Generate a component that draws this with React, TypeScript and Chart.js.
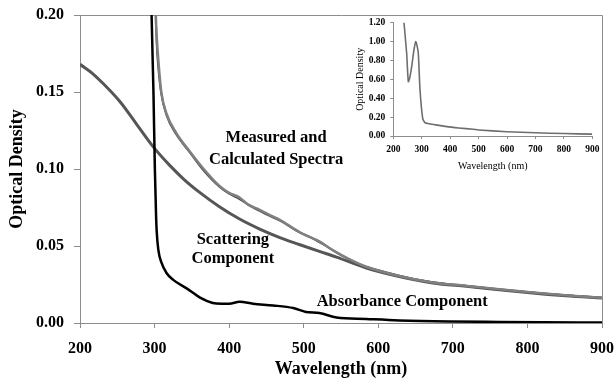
import React, { useEffect, useRef } from "react";
import { Chart, registerables } from "chart.js";

Chart.register(...registerables);

// ---- data ----
const absorbX = [294, 296, 298.5, 300.4, 302, 302.8, 305, 309.4, 316, 325, 343, 361, 378, 390, 400, 414, 432, 459, 486, 503, 521, 544, 584, 628, 695, 762, 820, 900];
const absorbY = [0.26, 0.2, 0.15, 0.1, 0.07, 0.06, 0.0476, 0.039, 0.0325, 0.028, 0.0225, 0.0165, 0.013, 0.0125, 0.0125, 0.0138, 0.0125, 0.0114, 0.0097, 0.0072, 0.0065, 0.0036, 0.0026, 0.0017, 0.001, 0.0007, 0.0005, 0.0003];

const measuredX = [300.5, 301.7, 303, 305, 309, 316, 329, 347, 365, 387, 400, 414, 425, 441, 459, 468, 486, 500, 521, 540, 561, 584, 628, 673, 718, 762, 807, 851, 900];
const measuredY = [0.24, 0.2, 0.185, 0.171, 0.15, 0.136, 0.1235, 0.1115, 0.1005, 0.089, 0.0845, 0.0815, 0.077, 0.0735, 0.069, 0.067, 0.0615, 0.0575, 0.053, 0.047, 0.0415, 0.0365, 0.0305, 0.0263, 0.0241, 0.0219, 0.0198, 0.018, 0.0164];

const calcX = [300, 301, 303, 305, 309, 316, 329, 347, 365, 387, 400, 414, 430, 450, 470, 490, 510, 530, 550, 575, 600, 650, 700, 750, 800, 850, 900];
const calcY = [0.24, 0.21, 0.18, 0.166, 0.149, 0.135, 0.1225, 0.111, 0.0995, 0.0885, 0.084, 0.0805, 0.0755, 0.0705, 0.066, 0.06, 0.0555, 0.05, 0.044, 0.038, 0.0342, 0.0283, 0.0248, 0.0223, 0.02, 0.018, 0.0163];

const scatterX = [200, 218, 231, 254, 276, 298, 320, 340, 360, 387, 414, 441, 468, 494, 521, 544, 584, 628, 673, 718, 762, 807, 851, 900];
const scatterY = [0.168, 0.1615, 0.1555, 0.1435, 0.129, 0.1145, 0.1025, 0.093, 0.085, 0.0755, 0.0675, 0.061, 0.0555, 0.051, 0.0465, 0.0428, 0.0357, 0.0302, 0.026, 0.0238, 0.0216, 0.0195, 0.0177, 0.0162];

const insetX = [235, 237.6, 247, 252.8, 258, 264.7, 272, 278.8, 284, 288, 294, 303.4, 311.5, 350, 388, 430, 481, 500, 600, 700, 800, 900];
const insetY = [1.35, 1.2, 0.876, 0.575, 0.62, 0.734, 0.9, 0.999, 0.95, 0.876, 0.487, 0.187, 0.141, 0.118, 0.099, 0.085, 0.071, 0.064, 0.045, 0.034, 0.026, 0.02];

const annotations = [
  { text: "Measured and", x: 463, y: 0.1203 },
  { text: "Calculated Spectra", x: 463, y: 0.106 },
  { text: "Scattering", x: 405, y: 0.054 },
  { text: "Component", x: 405, y: 0.0416 },
  { text: "Absorbance Component", x: 632, y: 0.014 },
];

const SERIF = "'Liberation Serif', 'Times New Roman', serif";
const AXIS_GRAY = "#8c8c8c";

const pts = (xs: number[], ys: number[]) => xs.map((x, i) => ({ x, y: ys[i] }));

// let layout.padding alone decide where the plot area sits
const fixX = (h: number) => (s: any) => { s.height = h; s.paddingLeft = 0; s.paddingRight = 0; };
const fixY = (w: number) => (s: any) => { s.width = w; s.paddingTop = 0; s.paddingBottom = 0; };

const framePlugin = {
  id: "frame",
  beforeDatasetsDraw(chart: any) {
    const { ctx, chartArea } = chart;
    ctx.save();
    ctx.strokeStyle = AXIS_GRAY;
    ctx.lineWidth = 1;
    ctx.beginPath();
    ctx.moveTo(Math.round(chartArea.left) + 0.5, Math.round(chartArea.top) + 0.5);
    ctx.lineTo(Math.round(chartArea.right) + 0.5, Math.round(chartArea.top) + 0.5);
    ctx.lineTo(Math.round(chartArea.right) + 0.5, Math.round(chartArea.bottom) + 0.5);
    ctx.stroke();
    ctx.restore();
  },
};

const textPlugin = {
  id: "labels",
  afterDatasetsDraw(chart: any) {
    const { ctx, scales } = chart;
    ctx.save();
    ctx.fillStyle = "#000";
    ctx.font = `bold 16.5px ${SERIF}`;
    ctx.textAlign = "center";
    ctx.textBaseline = "middle";
    annotations.forEach((a) => {
      ctx.fillText(a.text, scales.x.getPixelForValue(a.x), scales.y.getPixelForValue(a.y));
    });
    ctx.restore();
  },
};

export default function App() {
  const mainRef = useRef<HTMLCanvasElement>(null);
  const insetRef = useRef<HTMLCanvasElement>(null);

  useEffect(() => {
    const main = new Chart(mainRef.current as HTMLCanvasElement, {
      type: "line",
      data: {
        datasets: [
          { data: pts(absorbX, absorbY), borderColor: "#000", borderWidth: 2.5, cubicInterpolationMode: "monotone" },
          { data: pts(measuredX, measuredY), borderColor: "#808080", borderWidth: 2.5, cubicInterpolationMode: "monotone" },
          { data: pts(calcX, calcY), borderColor: "#4a4a4a", borderWidth: 2, cubicInterpolationMode: "monotone" },
          { data: pts(scatterX, scatterY), borderColor: "#565656", borderWidth: 3, cubicInterpolationMode: "monotone" },
        ],
      } as any,
      options: {
        animation: false,
        responsive: false,
        maintainAspectRatio: false,
        events: [],
        layout: { padding: { top: 15, right: 12, left: 0, bottom: 0 } },
        elements: { point: { radius: 0 } },
        plugins: { legend: { display: false }, tooltip: { enabled: false } },
        scales: {
          x: {
            type: "linear",
            min: 200,
            max: 900,
            ticks: { stepSize: 100, color: "#000", padding: 11, font: { family: SERIF, size: 16, weight: "bold" } },
            grid: { drawOnChartArea: false, tickLength: 5, color: AXIS_GRAY },
            border: { color: AXIS_GRAY },
            title: { display: true, text: "Wavelength (nm)", color: "#000", font: { family: SERIF, size: 18, weight: "bold" }, padding: { top: 0, bottom: 10 } },
            afterFit: fixX(67),
          },
          y: {
            min: 0,
            max: 0.2,
            ticks: { stepSize: 0.05, color: "#000", padding: 10, font: { family: SERIF, size: 16, weight: "bold" }, callback: (v: any) => Number(v).toFixed(2) },
            grid: { drawOnChartArea: false, tickLength: 6, color: AXIS_GRAY },
            border: { color: AXIS_GRAY },
            title: { display: true, text: "Optical Density", color: "#000", font: { family: SERIF, size: 18, weight: "bold" }, padding: { top: 7, bottom: 0 } },
            afterFit: fixY(80),
          },
        },
      } as any,
      plugins: [framePlugin, textPlugin],
    });

    const inset = new Chart(insetRef.current as HTMLCanvasElement, {
      type: "line",
      data: {
        datasets: [
          { data: pts(insetX, insetY), borderColor: "#6e6e6e", borderWidth: 1.6, tension: 0.2 },
        ],
      } as any,
      options: {
        animation: false,
        responsive: false,
        maintainAspectRatio: false,
        events: [],
        layout: { padding: { top: 12.7, right: 17.7, left: 0, bottom: 0 } },
        elements: { point: { radius: 0 } },
        plugins: { legend: { display: false }, tooltip: { enabled: false } },
        scales: {
          x: {
            type: "linear",
            min: 200,
            max: 900,
            ticks: { stepSize: 100, color: "#000", padding: 5, autoSkip: false, maxRotation: 0, font: { family: SERIF, size: 9.5, weight: "bold" } },
            grid: { drawOnChartArea: false, tickLength: 3, color: AXIS_GRAY },
            border: { color: AXIS_GRAY },
            title: { display: true, text: "Wavelength (nm)", color: "#000", font: { family: SERIF, size: 10 }, padding: { top: 0, bottom: 9.3 } },
            afterFit: fixX(46),
          },
          y: {
            min: 0,
            max: 1.2,
            ticks: { stepSize: 0.2, color: "#000", padding: 5, autoSkip: false, font: { family: SERIF, size: 9.5, weight: "bold" }, callback: (v: any) => Number(v).toFixed(2) },
            grid: { drawOnChartArea: false, tickLength: 3, color: AXIS_GRAY },
            border: { color: AXIS_GRAY },
            title: { display: true, text: "Optical Density", color: "#000", font: { family: SERIF, size: 10 }, padding: { top: 24, bottom: 0 } },
            afterFit: fixY(63.3),
          },
        },
      } as any,
    });

    return () => {
      main.destroy();
      inset.destroy();
    };
  }, []);

  return (
    <div style={{ position: "absolute", left: 0, top: 0, width: 614, height: 390, background: "#fff" }}>
      <canvas ref={mainRef} width={614} height={390} style={{ position: "absolute", left: 0, top: 0, width: 614, height: 390 }} />
      <canvas ref={insetRef} width={280} height={172} style={{ position: "absolute", left: 330, top: 10, width: 280, height: 172 }} />
    </div>
  );
}
